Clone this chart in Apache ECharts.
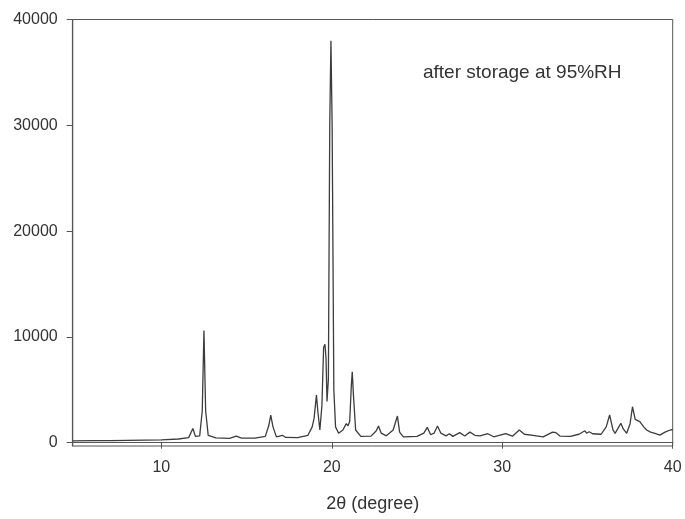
<!DOCTYPE html>
<html>
<head>
<meta charset="utf-8">
<title>XRD after storage at 95%RH</title>
<script src="https://cdn.jsdelivr.net/npm/echarts@6/dist/echarts.min.js"></script>
<style>
  html, body { margin: 0; padding: 0; background: #fff; }
  #chart { width: 685px; height: 519px; }
</style>
</head>
<body>
<div id="chart"></div>
<script>
// diffraction pattern (2theta in degree, counts)
const twoTheta = [
  4.8, 6, 7, 8, 9, 10, 11, 11.6, 11.85, 12.0, 12.25, 12.4, 12.5, 12.6, 12.75,
  13.2, 14.0, 14.4, 14.7, 15.5, 16.1, 16.3, 16.42, 16.55, 16.75, 17.1, 17.3,
  18.0, 18.6, 18.85, 18.96, 19.1, 19.18, 19.3, 19.42, 19.52, 19.6, 19.66, 19.72,
  19.8, 19.88, 19.95, 20.02, 20.12, 20.22, 20.4, 20.65, 20.85, 20.95, 21.05,
  21.15, 21.2, 21.27, 21.4, 21.7, 22.3, 22.6, 22.74, 22.9, 23.2, 23.6, 23.85,
  23.98, 24.2, 25.0, 25.4, 25.6, 25.8, 26.0, 26.2, 26.4, 26.7, 26.9, 27.1,
  27.5, 27.8, 28.1, 28.4, 28.7, 29.15, 29.5, 30.2, 30.6, 31.0, 31.3, 31.8,
  32.4, 32.95, 33.15, 33.4, 34.0, 34.5, 34.85, 34.95, 35.1, 35.3, 35.8, 36.1,
  36.3, 36.5, 36.62, 36.96, 37.1, 37.3, 37.5, 37.64, 37.8, 38.07, 38.3, 38.47,
  38.7, 38.96, 39.25, 39.55, 39.85, 40.0
];
const intensity = [
  180, 200, 190, 220, 240, 260, 350, 480, 1350, 600, 650, 3000, 10600, 3000, 700,
  450, 420, 620, 430, 430, 600, 1600, 2600, 1500, 550, 700, 500,
  480, 700, 1500, 2300, 4500, 3000, 1200, 3500, 9000, 9300, 8000, 3900,
  6000, 30000, 38000, 30000, 5000, 1500, 900, 1200, 1800, 1600, 2000,
  5500, 6700, 4500, 1200, 600, 620, 1100, 1580, 900, 650, 1200, 2520,
  1000, 560, 600, 900, 1450, 750, 900, 1580, 900, 650, 850, 600,
  950, 640, 1000, 700, 650, 850, 560, 850, 620, 1200, 800, 700,
  560, 1000, 950, 620, 600, 800, 1130, 900, 1040, 850, 800, 1500,
  2620, 1200, 890, 1830, 1300, 890, 1800, 3400, 2200, 2000, 1500, 1200,
  1000, 890, 720, 1000, 1200, 1250
];

const xTicks = [10, 20, 30, 40];
const yTicks = [0, 10000, 20000, 30000, 40000];

const chart = echarts.init(document.getElementById("chart"));

const fontFamily = "'Liberation Sans', Arial, sans-serif";
const axisColor = "#555";

const option = {
  animation: false,
  backgroundColor: "#fff",
  grid: {
    left: 72.7,
    right: 12.3,
    top: 19.5,
    bottom: 73,
    show: true,
    borderColor: axisColor,
    borderWidth: 1,
  },
  xAxis: {
    type: "value",
    min: 4.8,
    max: 40,
    name: "2θ (degree)",
    nameLocation: "middle",
    nameGap: 49,
    nameTextStyle: { fontFamily: fontFamily, fontSize: 18, color: "#333" },
    axisLine: { show: true, lineStyle: { color: axisColor, width: 1.2 } },
    axisTick: {
      show: true,
      length: 6,
      customValues: xTicks,
      lineStyle: { color: axisColor },
    },
    axisLabel: {
      customValues: xTicks,
      margin: 14,
      fontFamily: fontFamily,
      fontSize: 16,
      color: "#333",
      formatter: (v) => String(v),
    },
    splitLine: { show: false },
  },
  yAxis: {
    type: "value",
    min: -310,
    max: 40000,
    axisLine: { show: true, lineStyle: { color: axisColor, width: 1.2 } },
    axisTick: {
      show: true,
      length: 6,
      customValues: yTicks,
      lineStyle: { color: axisColor },
    },
    axisLabel: {
      customValues: yTicks,
      margin: 15,
      fontFamily: fontFamily,
      fontSize: 16,
      color: "#333",
      formatter: (v) => String(v),
    },
    splitLine: { show: false },
  },
  graphic: [
    {
      type: "text",
      left: 423,
      top: 63,
      style: {
        text: "after storage at 95%RH",
        fontFamily: fontFamily,
        fontSize: 19,
        fill: "#333",
      },
    },
  ],
  series: [
    {
      type: "line",
      data: twoTheta.map((t, i) => [t, intensity[i]]),
      showSymbol: false,
      smooth: false,
      lineStyle: { color: "#3c3c3c", width: 1.3 },
    },
  ],
};

chart.setOption(option);
</script>
</body>
</html>
